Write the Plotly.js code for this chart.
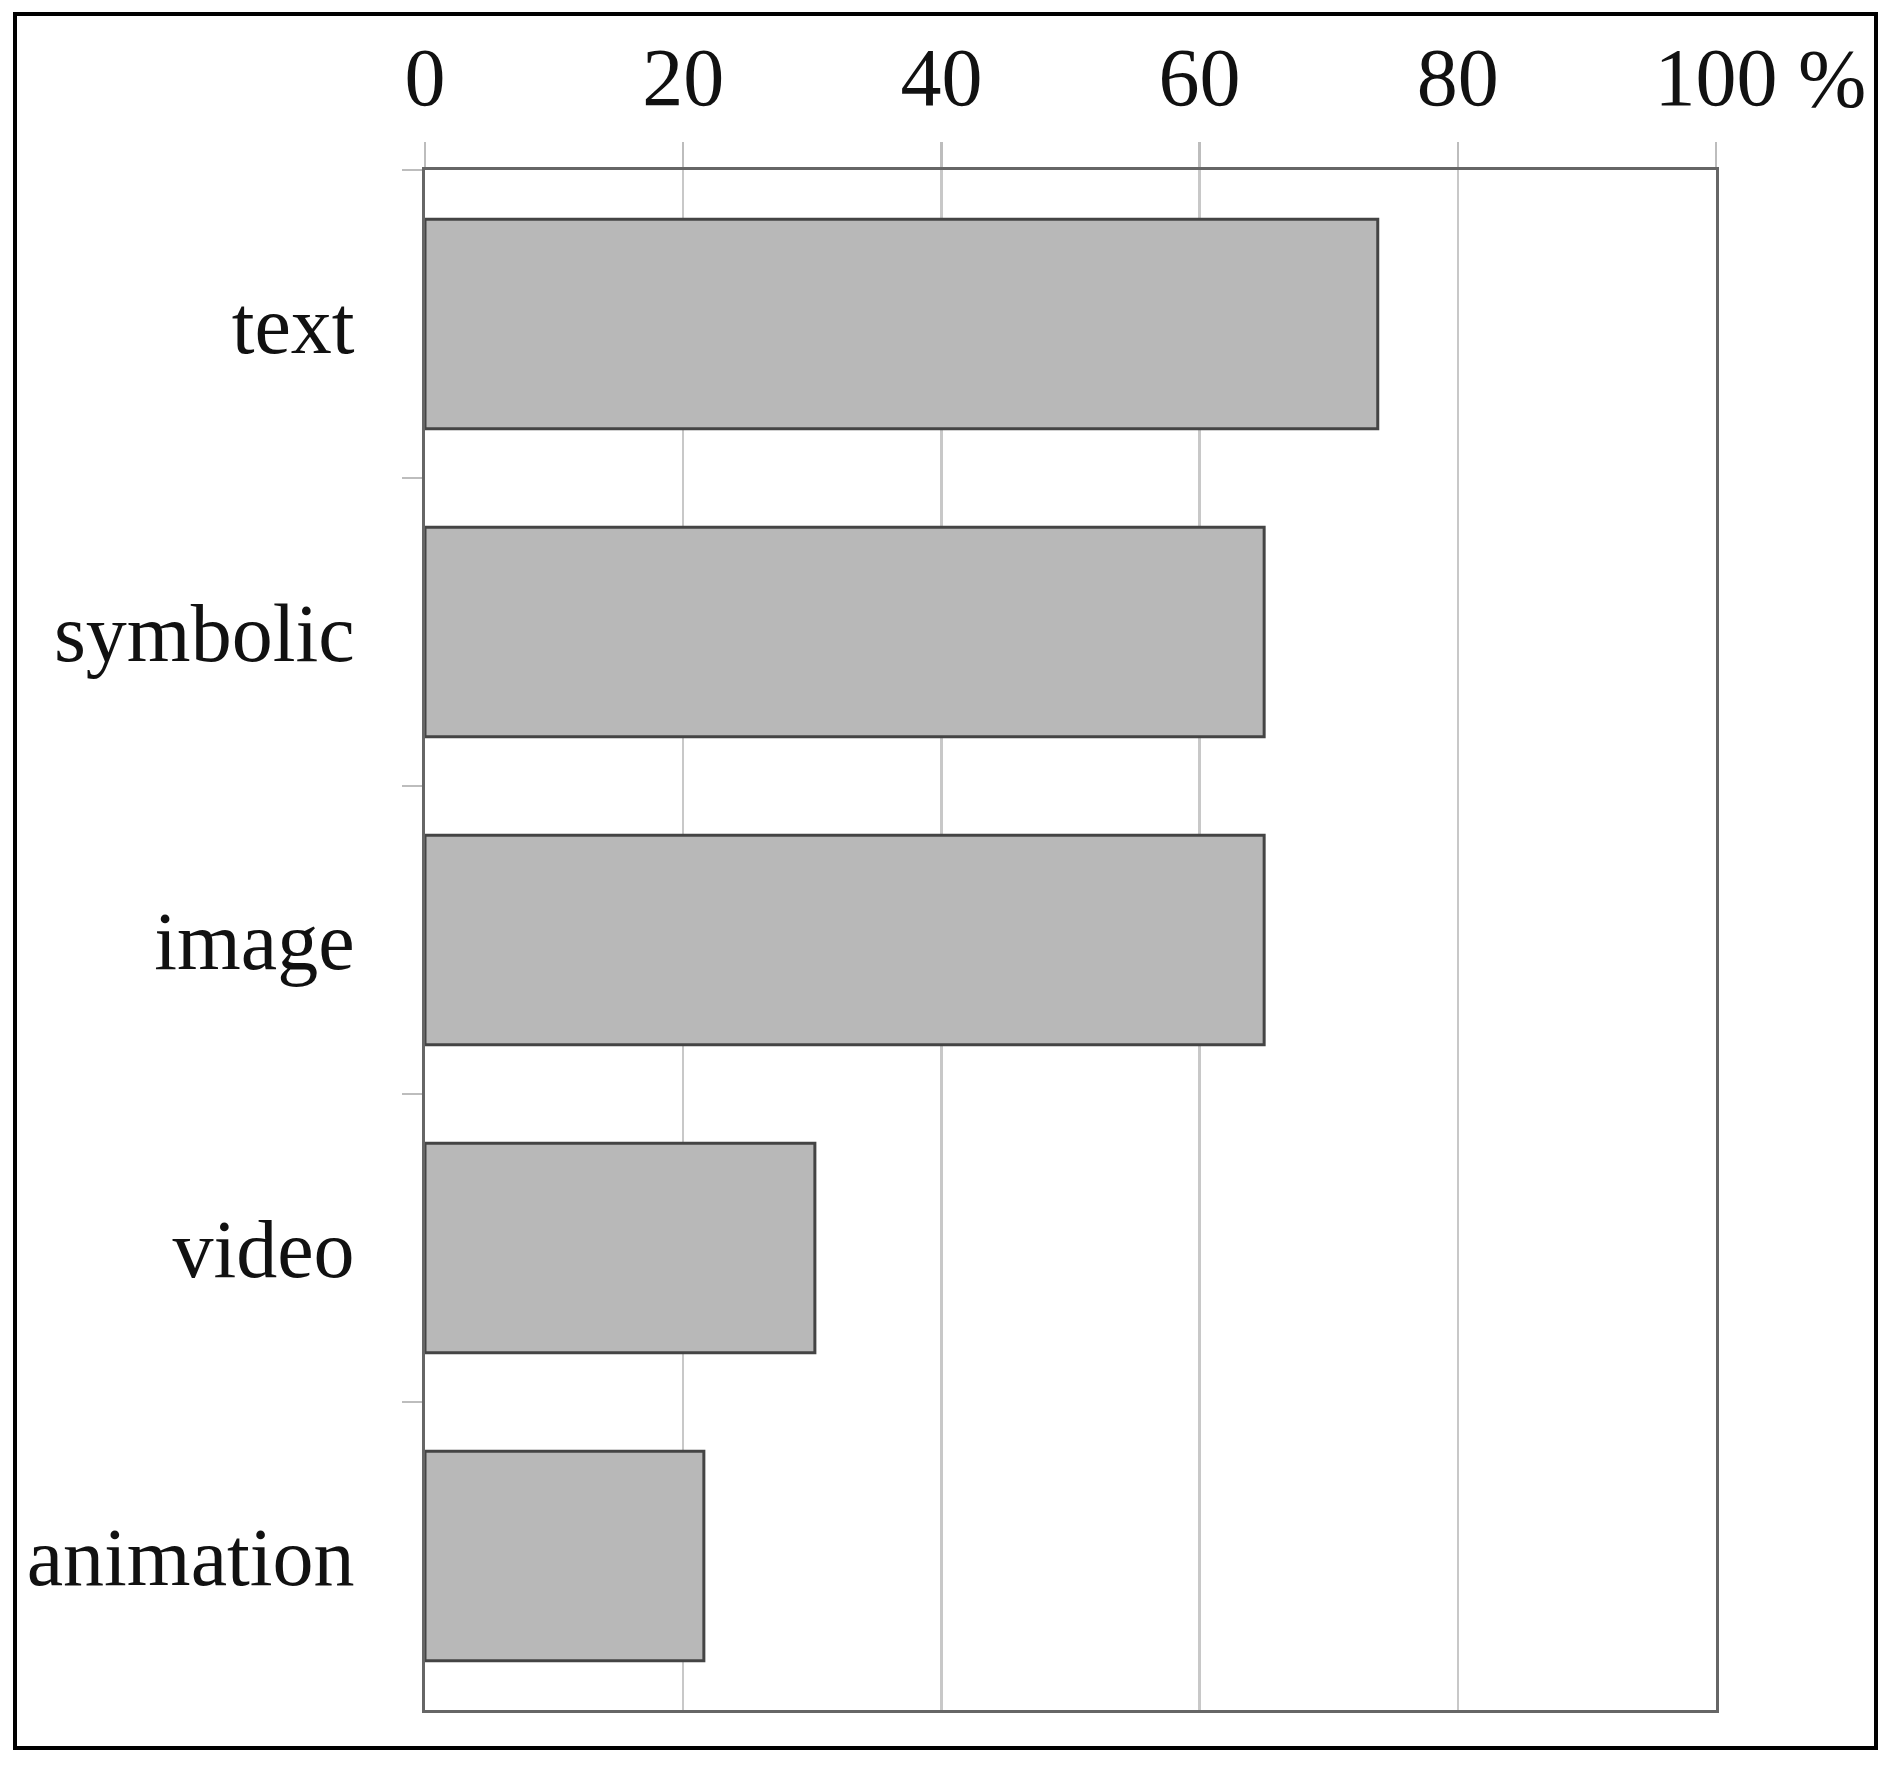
<!DOCTYPE html>
<html>
<head>
<meta charset="utf-8">
<script src="https://cdn.plot.ly/plotly-3.0.1.min.js"></script>
<style>
  body { margin: 0; background: #fff; }
  #plot { position: absolute; left: 0; top: 0; width: 1891px; height: 1768px; }
  #frame {
    position: absolute; left: 13px; top: 12px; width: 1865px; height: 1738px;
    box-sizing: border-box; border: 4px solid #000; pointer-events: none;
  }
</style>
</head>
<body>
<div id="plot"></div>
<div id="frame"></div>
<script>
// share of respondents per content type (%)
var categories = ['text', 'symbolic', 'image', 'video', 'animation'];
var shares = [73.8, 65, 65, 30.2, 21.6];
var tickValues = [0, 20, 40, 60, 80, 100];
var tickLabels = ['0', '20', '40', '60', '80', '100'];

var serif = 'Liberation Serif, Times New Roman, serif';

var bars = {
    type: 'bar',
    orientation: 'h',
    x: shares,
    y: categories,
    marker: {
        color: '#b8b8b8',
        line: { color: '#444444', width: 3 }
    },
    hoverinfo: 'x+y'
};

var layout = {
    width: 1891,
    height: 1768,
    margin: { l: 425, r: 175, t: 170, b: 58 },
    paper_bgcolor: '#ffffff',
    plot_bgcolor: '#ffffff',
    font: { family: serif, size: 82, color: '#111' },
    showlegend: false,
    bargap: 0.32,
    xaxis: {
        side: 'top',
        range: [0, 100],
        tickmode: 'array',
        tickvals: tickValues,
        ticktext: tickLabels,
        ticks: 'outside',
        ticklen: 25,
        tickwidth: 2.5,
        tickcolor: '#bdbdbd',
        ticklabelstandoff: 4,
        showgrid: true,
        gridcolor: '#c8c8c8',
        gridwidth: 2.5,
        zeroline: false,
        showline: true,
        linecolor: '#666666',
        linewidth: 3,
        mirror: true
    },
    yaxis: {
        type: 'category',
        autorange: 'reversed',
        ticks: 'outside',
        tickson: 'boundaries',
        ticklen: 20,
        tickwidth: 2.5,
        tickcolor: '#bdbdbd',
        ticklabelstandoff: 51,
        showgrid: false,
        zeroline: false,
        showline: true,
        linecolor: '#666666',
        linewidth: 3,
        mirror: true
    },
    annotations: [{
        text: '%',
        xref: 'x', x: 100,
        yref: 'paper', y: 1,
        xanchor: 'left', yanchor: 'bottom',
        xshift: 80, yshift: 44,
        showarrow: false,
        font: { family: serif, size: 82, color: '#111' }
    }]
};

Plotly.newPlot('plot', [bars], layout, { displayModeBar: false, staticPlot: true });
</script>
</body>
</html>
